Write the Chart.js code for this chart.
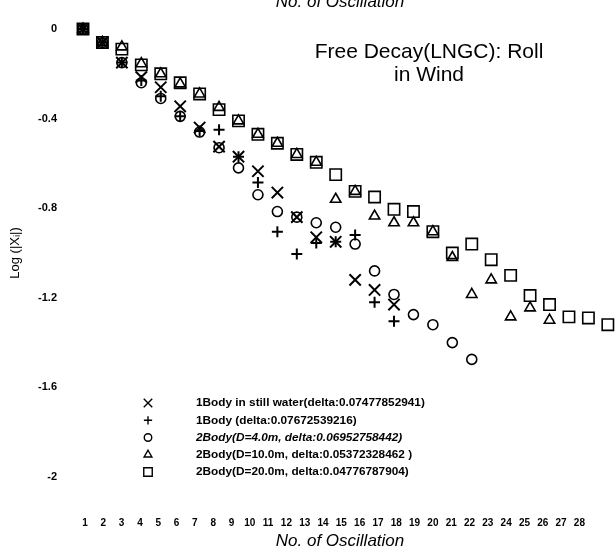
<!DOCTYPE html>
<html>
<head>
<meta charset="utf-8">
<script src="https://cdn.jsdelivr.net/npm/chart.js@4.4.0/dist/chart.umd.min.js"></script>
<style>
  html, body { margin: 0; padding: 0; background: #fff; }
</style>
</head>
<body>
<canvas id="decayChart" width="616" height="551"></canvas>
<script>
// x positions (oscillation number) and axis tick labels
const oscillation = [1, 2, 3, 4, 5, 6, 7, 8, 9, 10, 11, 12, 13, 14, 15, 16, 17, 18, 19, 20, 21, 22, 23, 24, 25, 26, 27, 28];
const xTickLabels = [1, 2, 3, 4, 5, 6, 7, 8, 9, 10, 11, 12, 13, 14, 15, 16, 17, 18, 19, 20, 21, 22, 23, 24, 25, 26, 27, 28];
const yTickValues = [0, -0.4, -0.8, -1.2, -1.6, -2];
const yTickLabels = ['0', '-0.4', '-0.8', '-1.2', '-1.6', '-2'];

// Log(|Xi|)
const stillWater = [0, -0.06, -0.15, -0.215, -0.26, -0.345, -0.44, -0.525, -0.57, -0.635, -0.73, -0.84, -0.93, -0.95, -1.12, -1.165, -1.23];
const oneBody    = [0, -0.06, -0.15, -0.23, -0.30, -0.39, -0.455, -0.45, -0.57, -0.685, -0.905, -1.005, -0.955, -0.95, -0.92, -1.22, -1.305];
const twoBody4   = [0, -0.06, -0.15, -0.24, -0.31, -0.39, -0.46, -0.53, -0.62, -0.74, -0.815, -0.84, -0.865, -0.885, -0.96, -1.08, -1.185, -1.275, -1.32, -1.40, -1.475];
const twoBody10  = [0, -0.06, -0.08, -0.155, -0.2, -0.245, -0.29, -0.35, -0.41, -0.47, -0.51, -0.56, -0.595, -0.76, -0.725, -0.835, -0.865, -0.865, -0.905, -1.02, -1.185, -1.12, -1.285, -1.245, -1.30];
const twoBody20  = [0, -0.06, -0.09, -0.16, -0.2, -0.24, -0.29, -0.36, -0.41, -0.47, -0.51, -0.56, -0.595, -0.65, -0.725, -0.75, -0.805, -0.815, -0.905, -1.0, -0.96, -1.03, -1.1, -1.19, -1.23, -1.285, -1.29, -1.32];

const seriesNames = [
    '1Body in still water(delta:0.07477852941)',
    '1Body (delta:0.07672539216)',
    '2Body(D=4.0m, delta:0.06952758442)',
    '2Body(D=10.0m, delta:0.05372328462 )',
    '2Body(D=20.0m, delta:0.04776787904)'
];

const FONT = "'Liberation Sans', Arial, sans-serif";

function toPoints(values) {
    return values.map((v, i) => ({ x: oscillation[i], y: v }));
}

function makeSet(label, values, style, radius, width) {
    return {
        label: label,
        data: toPoints(values),
        pointStyle: style,
        pointRadius: radius,
        pointHoverRadius: radius,
        pointBorderWidth: width,
        pointBorderColor: '#000',
        pointBackgroundColor: 'rgba(0,0,0,0)',
        showLine: false,
        clip: false
    };
}

// legend + floating title drawn inside the plot
const annotations = {
    id: 'annotations',
    afterDraw(chart) {
        const ctx = chart.ctx;
        ctx.save();

        // cut-off caption at very top of the scan
        ctx.fillStyle = '#000';
        ctx.font = 'italic 17px ' + FONT;
        ctx.textAlign = 'center';
        ctx.textBaseline = 'alphabetic';
        ctx.fillText('No. of Oscillation', 340, 7);

        ctx.font = '21px ' + FONT;
        ctx.textBaseline = 'middle';
        ctx.fillText('Free Decay(LNGC): Roll', 429, 52);
        ctx.fillText('in Wind', 429, 75);

        // legend
        chart.data.datasets.forEach((ds, i) => {
            const y = 403 + i * 17.25;
            ctx.strokeStyle = '#000';
            ctx.fillStyle = 'rgba(0,0,0,0)';
            ctx.lineWidth = 1.4;
            Chart.helpers.drawPoint(ctx, {
                pointStyle: ds.pointStyle,
                radius: ds.pointRadius * 0.75,
                rotation: 0,
                borderWidth: 1.4
            }, 148, y);
            ctx.fillStyle = '#000';
            ctx.textAlign = 'left';
            ctx.font = (i === 2 ? 'italic ' : '') + 'bold 11.8px ' + FONT;
            ctx.fillText(seriesNames[i], 196, y);
        });
        ctx.restore();
    }
};

new Chart(document.getElementById('decayChart'), {
    type: 'scatter',
    data: {
        datasets: [
            makeSet(seriesNames[0], stillWater, 'crossRot', 8, 2),
            makeSet(seriesNames[1], oneBody, 'cross', 5.5, 2),
            makeSet(seriesNames[2], twoBody4, 'circle', 5, 1.6),
            makeSet(seriesNames[3], twoBody10, 'triangle', 6, 1.6),
            makeSet(seriesNames[4], twoBody20, 'rect', 8, 1.6)
        ]
    },
    options: {
        responsive: false,
        animation: false,
        layout: { autoPadding: false, padding: { top: 17.8, left: 0, right: 0, bottom: 0 } },
        plugins: {
            legend: { display: false },
            tooltip: { enabled: false }
        },
        scales: {
            x: {
                type: 'linear',
                display: false,
                min: 0.023,
                max: 28.42
            },
            xt: {
                type: 'linear',
                axis: 'x',
                position: 'bottom',
                min: -0.148,
                max: 30.0,
                grid: { display: false, drawTicks: false },
                border: { display: false },
                afterBuildTicks: s => { s.ticks = xTickLabels.map(v => ({ value: v })); },
                afterFit: s => { s.height = 62.8; s.paddingLeft = 0; s.paddingRight = 0; },
                ticks: {
                    autoSkip: false,
                    maxRotation: 0,
                    padding: 29,
                    color: '#000',
                    font: { family: FONT, size: 10, weight: 'bold' },
                    callback: v => String(v)
                },
                title: {
                    display: true,
                    text: 'No. of Oscillation',
                    color: '#000',
                    padding: { top: 0, bottom: 0 },
                    font: { family: FONT, size: 17, style: 'italic' }
                }
            },
            y: {
                type: 'linear',
                min: -2.05,
                max: 0.05,
                grid: { display: false, drawTicks: false },
                border: { display: false },
                afterBuildTicks: s => { s.ticks = yTickValues.map(v => ({ value: v })); },
                afterFit: s => { s.width = 64; s.paddingTop = 0; s.paddingBottom = 0; },
                ticks: {
                    padding: 7,
                    color: '#000',
                    font: { family: FONT, size: 11, weight: 'bold' },
                    callback: v => yTickLabels[yTickValues.indexOf(v)]
                },
                title: {
                    display: true,
                    text: 'Log (|Xᵢ|)',
                    color: '#000',
                    padding: { top: 8, bottom: 0 },
                    font: { family: FONT, size: 13 }
                }
            }
        }
    },
    plugins: [annotations]
});
</script>
</body>
</html>
